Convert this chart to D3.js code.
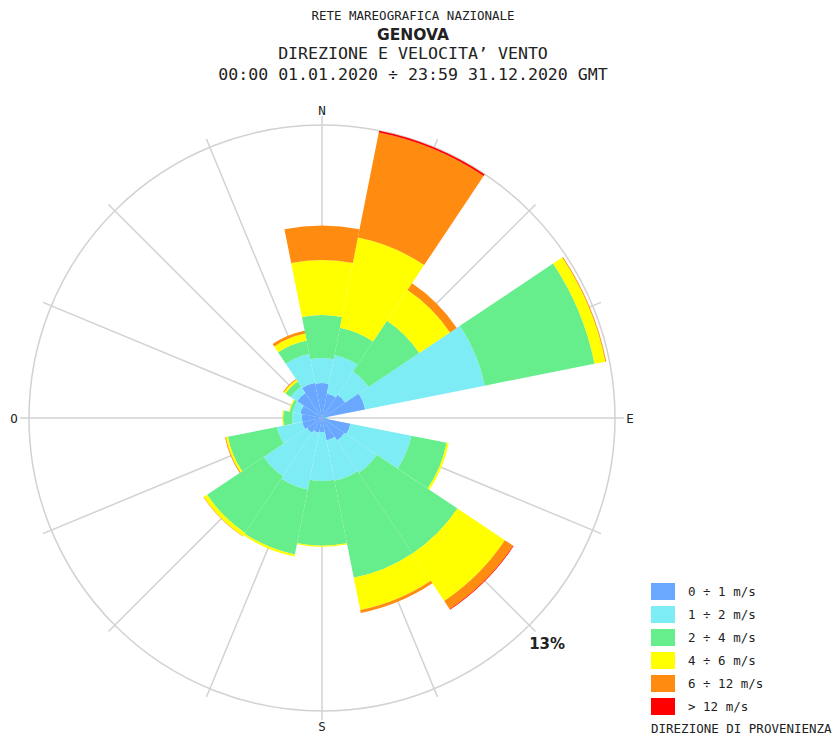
<!DOCTYPE html>
<html><head><meta charset="utf-8">
<script src="https://cdn.jsdelivr.net/npm/d3@7"></script>
<style>
body{margin:0;background:#fff;}
svg text{font-family:"DejaVu Sans Mono",monospace;fill:#222;}
</style></head>
<body><svg id="c" width="835" height="736"></svg>
<script>
// ---- data (percent of observations, direction of origin) ----
const directions = ["N","NNE","NE","ENE","E","ESE","SE","SSE","S","SSW","SW","WSW","W","WNW","NW","NNW"];
const speedClasses = ["0 ÷ 1 m/s","1 ÷ 2 m/s","2 ÷ 4 m/s","4 ÷ 6 m/s","6 ÷ 12 m/s","> 12 m/s"];
const classColors = ["#6aa8ff","#7eecf4","#66ee8c","#ffff00","#ff8c10","#ff0000"];
const v0_1  = [1.55,1.11,1.24,1.95,0.18,1.29,1.20,1.02,0.62,0.67,0.80,0.89,0.89,0.98,1.33,1.60];
const v1_2  = [1.11,1.73,1.24,5.41,0.09,2.75,1.73,1.82,2.17,2.57,2.31,1.15,0.44,0.35,0.35,1.29];
const v2_4  = [1.91,1.24,2.71,4.97,0.00,1.60,4.30,4.39,2.88,2.93,3.02,2.22,0.40,0.13,0.27,0.62];
const v4_6  = [2.44,4.08,1.64,0.49,0.00,0.09,2.53,1.46,0.04,0.09,0.18,0.09,0.04,0.04,0.09,0.31];
const v6_12 = [1.53,4.75,0.36,0.04,0.00,0.00,0.44,0.13,0.00,0.00,0.02,0.04,0.00,0.00,0.04,0.13];
const v12   = [0.00,0.09,0.00,0.00,0.00,0.00,0.03,0.00,0.00,0.00,0.00,0.00,0.00,0.00,0.00,0.00];
const maxPercent = 13;
const cardinalLabels = [{t:"N",d:0},{t:"E",d:90},{t:"S",d:180},{t:"O",d:270}];
const titleLines = ["RETE MAREOGRAFICA NAZIONALE","GENOVA","DIREZIONE E VELOCITA’ VENTO","00:00 01.01.2020 ÷ 23:59 31.12.2020 GMT"];

const series = [v0_1,v1_2,v2_4,v4_6,v6_12,v12];
const table = directions.map((d,i)=>{const o={dir:d};series.forEach((s,k)=>o[k]=s[i]);return o;});

const svg = d3.select("#c");
const cx=322, cy=418, R=293;
const r = d3.scaleLinear().domain([0,maxPercent]).range([0,R]);
const ang = d3.scaleLinear().domain([0,directions.length]).range([0,2*Math.PI]);
const half = Math.PI/directions.length;

const g = svg.append("g").attr("transform",`translate(${cx},${cy})`);

// radial grid lines
g.selectAll("line.grid").data(directions).join("line")
 .attr("x1",0).attr("y1",0)
 .attr("x2",(d,i)=>Math.sin(ang(i))*(R+9))
 .attr("y2",(d,i)=>-Math.cos(ang(i))*(R+9))
 .attr("stroke","#d2d2d2").attr("stroke-width",1.5);
g.append("circle").attr("r",r(maxPercent)).attr("fill","none").attr("stroke","#d2d2d2").attr("stroke-width",1.5);

// stacked sectors
const stack = d3.stack().keys(d3.range(series.length))(table);
const arc = d3.arc();
stack.forEach((layer,k)=>{
  g.selectAll(null).data(layer).join("path")
   .attr("d",(d,i)=>arc({innerRadius:r(d[0]),outerRadius:r(d[1]),startAngle:ang(i)-half,endAngle:ang(i)+half}))
   .attr("fill",classColors[k]);
});

// cardinal labels
g.selectAll("text.card").data(cardinalLabels).join("text")
 .attr("x",d=>Math.sin(d.d*Math.PI/180)*(R+15))
 .attr("y",d=>-Math.cos(d.d*Math.PI/180)*(R+15))
 .attr("text-anchor","middle").attr("dominant-baseline","central")
 .attr("font-size",12.5).text(d=>d.t);

// max percent label
g.append("text").attr("x",Math.sin(3*Math.PI/4)*R).attr("y",-Math.cos(3*Math.PI/4)*R+24)
 .attr("font-weight","bold").attr("font-size",15)
 .style("font-family","DejaVu Sans").text(maxPercent+"%");

// titles
svg.append("text").attr("x",413).attr("y",20).attr("text-anchor","middle").attr("font-size",12.5).text(titleLines[0]);
svg.append("text").attr("x",413).attr("y",40).attr("text-anchor","middle").attr("font-size",15.5)
 .attr("font-weight","bold").style("font-family","DejaVu Sans").text(titleLines[1]);
svg.append("text").attr("x",413).attr("y",59).attr("text-anchor","middle").attr("font-size",16.6).text(titleLines[2]);
svg.append("text").attr("x",413).attr("y",80).attr("text-anchor","middle").attr("font-size",16.6).text(titleLines[3]);

// legend
const lg = svg.append("g").attr("transform","translate(651,583)");
const rows = lg.selectAll("g").data(speedClasses).join("g").attr("transform",(d,i)=>`translate(0,${i*23})`);
rows.append("rect").attr("width",24).attr("height",17).attr("fill",(d,i)=>classColors[i]);
rows.append("text").attr("x",37).attr("y",8.5).attr("dominant-baseline","central").attr("font-size",12.5).text(d=>d);
lg.append("text").attr("x",0).attr("y",150).attr("font-size",12.5).text("DIREZIONE DI PROVENIENZA");
</script></body></html>
